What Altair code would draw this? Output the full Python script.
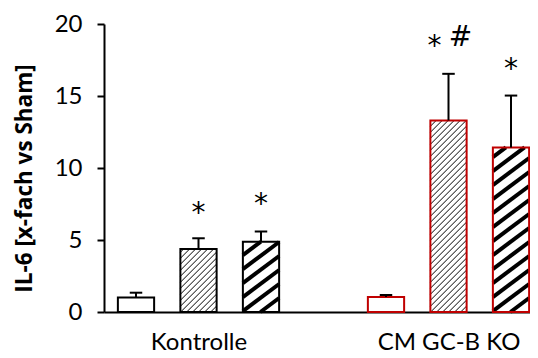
import altair as alt
import pandas as pd

# ---- data ----
groups = ["Kontrolle", "CM GC-B KO"]
group_centers = [1, 5]
bar_slots = [0, 1, 2, 4, 5, 6]
bar_group = ["Kontrolle", "Kontrolle", "Kontrolle", "CM GC-B KO", "CM GC-B KO", "CM GC-B KO"]
bar_pattern = ["none", "fine", "wide", "none", "fine", "wide"]
means = [1.0, 4.37, 4.88, 1.04, 13.3, 11.43]
errors = [0.34, 0.75, 0.71, 0.14, 3.24, 3.6]
star_slots = [1, 2, 5, 6]
star_y = [6.24, 6.85, 17.82, 16.25]
hash_slots = [5]
hash_y = [18.47]
y_ticks = [0, 5, 10, 15, 20]

# ---- layout ----
W, H = 426, 288
X_DOM = [-0.512, 6.304]
Y_DOM = [0, 20]
BAR_W = 0.58
CAP_W = 0.1
kx = W / (X_DOM[1] - X_DOM[0])
ky = H / (Y_DOM[1] - Y_DOM[0])
FONT = "Lato"
MARK_FONT = "DejaVu Sans"

bars = pd.DataFrame({
    "x": bar_slots,
    "x0": [s - BAR_W / 2 for s in bar_slots],
    "x1": [s + BAR_W / 2 for s in bar_slots],
    "mean": means,
    "base": [0] * len(means),
    "top": [m + e for m, e in zip(means, errors)],
    "capl": [s - CAP_W for s in bar_slots],
    "capr": [s + CAP_W for s in bar_slots],
    "group": bar_group,
})
stars = pd.DataFrame({"x": star_slots, "y": star_y, "t": ["*"] * len(star_slots),
                      "paired": [s in hash_slots for s in star_slots]})
hashes = pd.DataFrame({"x": hash_slots, "y": hash_y, "t": ["#"] * len(hash_slots)})


def hatch_segments(xc, v, spacing, slope, width):
    w_px = BAR_W * kx
    h_px = v * ky
    xl = xc - BAR_W / 2
    segs = []
    c = -slope * w_px
    while c < h_px:
        xa = max(0.0, -c / slope)
        xb = min(w_px, (h_px - c) / slope)
        if xb > xa:
            segs.append({
                "hx": xl + xa / kx, "hy": (slope * xa + c) / ky,
                "hx2": xl + xb / kx, "hy2": (slope * xb + c) / ky,
                "w": width,
            })
        c += spacing
    return segs


hrows = []
for s, m, p in zip(bar_slots, means, bar_pattern):
    if p == "fine":
        hrows += hatch_segments(s, m, 6.0, 1.0, 1.0)
    elif p == "wide":
        hrows += hatch_segments(s, m, 14.0, 0.75, 4.0)
hatch = pd.DataFrame(hrows)

xs = alt.Scale(domain=X_DOM, nice=False, zero=False)
ys = alt.Scale(domain=Y_DOM, nice=False)

label_expr = " : ".join(
    f"datum.value == {c} ? '{g}'" for c, g in zip(group_centers, groups)
) + " : ''"

x_axis = alt.Axis(values=group_centers, labelExpr=label_expr, ticks=False, grid=False,
                  domainColor="black", domainWidth=2, labelFont=FONT, labelFontSize=24,
                  labelColor="black", labelPadding=18, title=None)
y_axis = alt.Axis(values=y_ticks, grid=False, domainColor="black", domainWidth=2,
                  tickColor="black", tickWidth=2, tickSize=7, labelFont=FONT,
                  labelFontSize=24, labelColor="black", labelPadding=15,
                  title="IL-6 [x-fach vs Sham]", titleFont="Open Sans", titleFontSize=22.5,
                  titleFontWeight="bold", titleColor="black", titlePadding=18, titleY=154)

base = alt.Chart(bars)
fill_layer = base.mark_rect(fill="white", strokeWidth=0).encode(
    x=alt.X("x0:Q", scale=xs, axis=x_axis),
    x2="x1:Q",
    y=alt.Y("mean:Q", scale=ys, axis=y_axis),
    y2="base:Q",
)
hatch_layer = alt.Chart(hatch).mark_rule(color="black", strokeCap="butt").encode(
    x=alt.X("hx:Q", scale=xs),
    y=alt.Y("hy:Q", scale=ys),
    x2="hx2:Q",
    y2="hy2:Q",
    strokeWidth=alt.StrokeWidth("w:Q", scale=None),
)
outline_layer = base.mark_rect(fillOpacity=0, strokeWidth=2).encode(
    x=alt.X("x0:Q", scale=xs),
    x2="x1:Q",
    y=alt.Y("mean:Q", scale=ys),
    y2="base:Q",
    stroke=alt.Stroke("group:N", scale=alt.Scale(domain=groups, range=["black", "#C00000"]), legend=None),
)
err_layer = base.mark_rule(color="black", strokeWidth=2).encode(
    x=alt.X("x:Q", scale=xs), y=alt.Y("mean:Q", scale=ys), y2="top:Q"
)
cap_layer = base.mark_rule(color="black", strokeWidth=2).encode(
    x=alt.X("capl:Q", scale=xs), x2="capr:Q", y=alt.Y("top:Q", scale=ys)
)
star_single = alt.Chart(stars).transform_filter("!datum.paired").mark_text(
    font=MARK_FONT, fontSize=28, color="black", baseline="alphabetic", align="center"
).encode(x=alt.X("x:Q", scale=xs), y=alt.Y("y:Q", scale=ys), text="t:N")
star_paired = alt.Chart(stars).transform_filter("datum.paired").mark_text(
    font=MARK_FONT, fontSize=28, color="black", baseline="alphabetic", align="center", dx=-14
).encode(x=alt.X("x:Q", scale=xs), y=alt.Y("y:Q", scale=ys), text="t:N")
hash_layer = alt.Chart(hashes).mark_text(
    font=MARK_FONT, fontSize=28, color="black", baseline="alphabetic", align="center", dx=12
).encode(x=alt.X("x:Q", scale=xs), y=alt.Y("y:Q", scale=ys), text="t:N")

chart = alt.layer(fill_layer, hatch_layer, outline_layer, err_layer, cap_layer,
                  star_single, star_paired, hash_layer).properties(
    width=W, height=H,
    autosize=alt.AutoSizeParams(type="none"),
    padding={"left": 96, "top": 16, "right": 0, "bottom": 46},
).configure_view(stroke=None)

chart.save("out.html", embed_options={"renderer": "svg", "actions": False})
